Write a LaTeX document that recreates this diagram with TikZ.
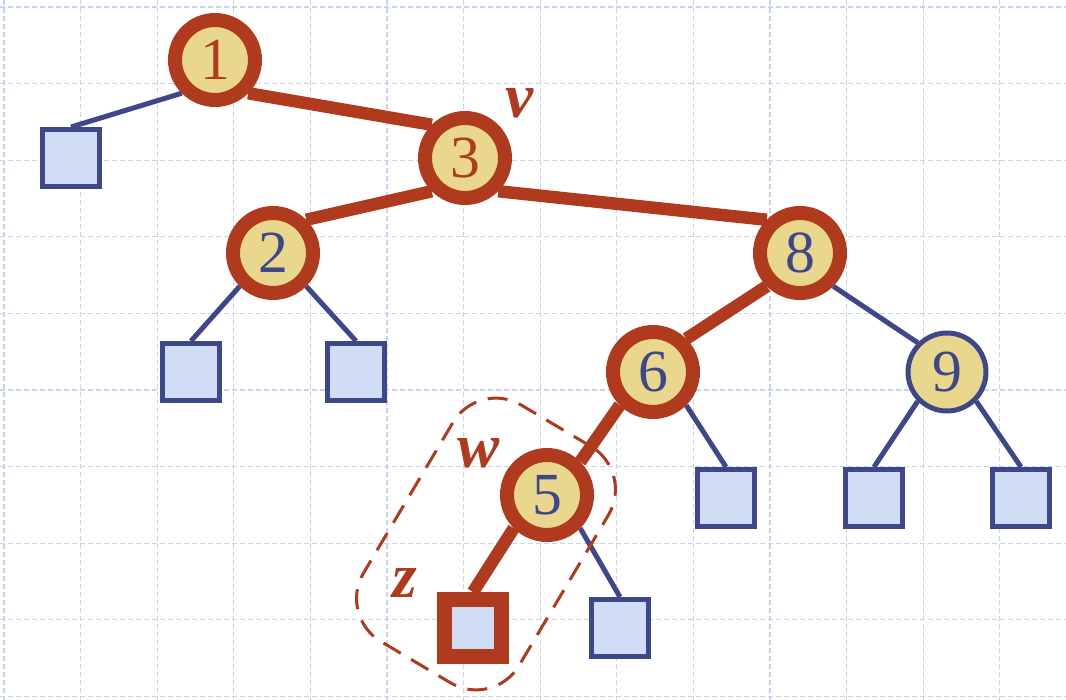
\documentclass[tikz,border=0pt]{standalone}
\usepackage{fontspec}
\setmainfont{Liberation Serif}
\usepackage{xcolor}
\usepackage{tikz}
\usetikzlibrary{backgrounds}
\definecolor{ringred}{RGB}{175,58,29}
\definecolor{keyfill}{RGB}{233,215,142}
\definecolor{treeblue}{RGB}{62,71,138}
\definecolor{leaffill}{RGB}{208,220,246}
\definecolor{gridblue}{RGB}{200,212,246}
\tikzset{
    keynode/.style={circle, draw=treeblue, line width=0.1cm, fill=keyfill, minimum size=1.56cm, inner sep=0, font=\fontsize{34}{34}\selectfont, text=treeblue},
    pathkey/.style={keynode, draw=ringred, line width=0.28cm, minimum size=1.6cm},
    leaf/.style={rectangle, draw=treeblue, line width=0.1cm, fill=leaffill, minimum size=1.14cm, inner sep=0},
    pathleaf/.style={leaf, draw=ringred, line width=0.3cm},
    link/.style={treeblue, line width=0.1cm},
    trail/.style={ringred, line width=0.25cm},
    tag/.style={text=ringred, inner sep=0, font=\fontsize{36}{36}\selectfont\bfseries\itshape},
    region/.style={rectangle, draw=ringred, line width=0.06cm, dash pattern=on 0.4cm off 0.24cm, rounded corners=1cm},
    gridline/.style={gridblue, line width=0.025cm, dash pattern=on 0.1cm off 0.06cm},
}
\begin{document}
\begin{tikzpicture}[x=0.02cm, y=-0.02cm]
    \useasboundingbox (0,0) rectangle (1066,700);

    % highlighted subtree w - z
    \node[region, minimum width=3.62cm, minimum height=5.5cm, rotate=-30.7] (wz) at (486,544) {};

    % keys
    \node[pathkey, text=ringred] (n1) at (215,60) {1};
    \node[pathkey, text=ringred] (n3) at (465,158) {3};
    \node[pathkey] (n2) at (273,253) {2};
    \node[pathkey] (n8) at (800,253) {8};
    \node[pathkey] (n6) at (653,372) {6};
    \node[keynode] (n9) at (947,372) {9};
    \node[pathkey] (n5) at (547,495) {5};

    % external leaves
    \node[leaf] (l1) at (71,158) {};
    \node[leaf] (l2a) at (191,372) {};
    \node[leaf] (l2b) at (356,372) {};
    \node[leaf] (l6) at (726,498) {};
    \node[leaf] (l9a) at (874,498) {};
    \node[leaf] (l9b) at (1021,498) {};
    \node[pathleaf] (lz) at (473,628) {};
    \node[leaf] (l5) at (620,628) {};

    \node[tag] (vtag) at (520,103) {v};
    \node[tag] (wtag) at (479,453) {w};
    \node[tag] (ztag) at (405,583) {z};

    \begin{scope}[on background layer]
        \foreach \gx in {0,...,13}
            \draw[gridline] (4+76.6*\gx,0) -- (4+76.6*\gx,700);
        \foreach \gy in {0,...,9}
            \draw[gridline] (0,7+76.6*\gy) -- (1066,7+76.6*\gy);

        \draw[trail] (n1.south east) -- (n3.north west);
        \draw[trail] (n3.south west) -- (n2.north east);
        \draw[trail] (n3.south east) -- (n8.north west);
        \draw[trail] (n8.south west) -- (n6.north east);
        \draw[trail] (n6.south west) -- (n5.north east);
        \draw[trail] (n5.south west) -- (lz.north);

        \draw[link] (n1.south west) -- (l1.north);
        \draw[link] (n2.south west) -- (l2a.north);
        \draw[link] (n2.south east) -- (l2b.north);
        \draw[link] (n8.south east) -- (n9.north west);
        \draw[link] (n6.south east) -- (l6.north);
        \draw[link] (n9.south west) -- (l9a.north);
        \draw[link] (n9.south east) -- (l9b.north);
        \draw[link] (n5.south east) -- (l5.north);
    \end{scope}
\end{tikzpicture}
\end{document}
